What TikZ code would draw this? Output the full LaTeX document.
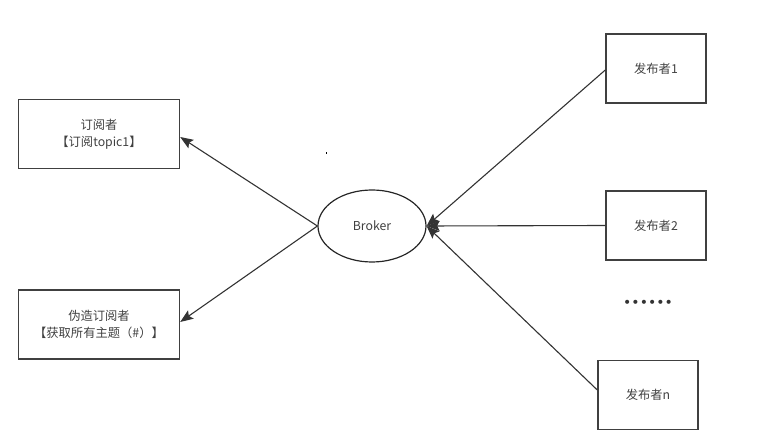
\documentclass[tikz,border=0pt]{standalone}
\usepackage{fontspec}
\setmainfont{Noto Sans CJK SC}
\newfontfamily\dotfont{DejaVu Sans}
\usetikzlibrary{arrows.meta, shapes.geometric}

\begin{document}
\begin{tikzpicture}[x=1pt, y=-1pt,
    box/.style={draw=black!75, line width=1.4pt, minimum width=161pt, minimum height=69pt, align=center, inner sep=0pt, font=\fontsize{12.3}{17}\selectfont, text=black!75},
    pubbox/.style={box, minimum width=100pt},
    link/.style={draw=black!80, line width=1.1pt, -{Stealth[length=13pt, width=10pt, inset=2.5pt]}}]
        \useasboundingbox (0,0) rectangle (762,443);
        \node[box] (s1) at (99,134) {订阅者\\【订阅topic1】};
        \node[box] (s2) at (99,324.5) {伪造订阅者\\【获取所有主题（\#）】};
        \node[draw=black!85, line width=1.2pt, ellipse, minimum width=108pt, minimum height=72pt, inner sep=0pt, font=\fontsize{12.3}{14}\selectfont, text=black!75] (broker) at (372,226) {Broker};
        \node[pubbox] (p1) at (656,68.5) {发布者1};
        \node[pubbox] (p2) at (656,225.5) {发布者2};
        \node[pubbox] (pn) at (648,395) {发布者n};
        \node[font=\dotfont\fontsize{14}{14}\selectfont, text=black!80] (dots) at (648,304) {••••••};
        \fill[black] (325.5,152.5) rectangle (327,154);
        \draw[link] (broker.west) -- (s1.east |- 0,137);
        \draw[link] (broker.west) -- (s2.east |- 0,322);
        \draw[link] (p1.west |- 0,70) -- (broker.east);
        \draw[link] (p2.west) -- (broker.east);
        \draw[link] (pn.west |- 0,390) -- (broker.east);
    \end{tikzpicture}
\end{document}
